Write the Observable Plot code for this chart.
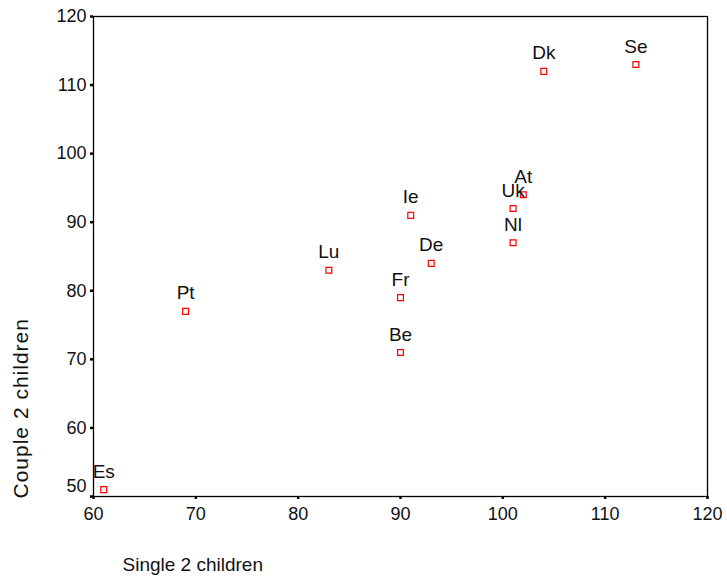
<!DOCTYPE html>
<html>
<head>
<meta charset="utf-8">
<script src="https://cdn.jsdelivr.net/npm/d3@7"></script>
<script src="https://cdn.jsdelivr.net/npm/@observablehq/plot@0.6"></script>
<style>
  html, body { margin: 0; padding: 0; background: white; }
</style>
</head>
<body>
<div id="chart"></div>
<script>
const countries = ["Be", "Dk", "De", "Es", "Fr", "Ie", "Lu", "Nl", "At", "Pt", "Se", "Uk"];
const single2   = [90, 104, 93, 61, 90, 91, 83, 101, 102, 69, 113, 101];
const couple2   = [71, 112, 84, 51, 79, 91, 83, 87, 94, 77, 113, 92];
const xTicks = [60, 70, 80, 90, 100, 110, 120];
const yTicks = [50, 60, 70, 80, 90, 100, 110, 120];
const yLowTick = [50];
const xTitle = ["Single 2 children"];
const yTitle = ["Couple 2 children"];

const data = countries.map((c, i) => ({country: c, single: single2[i], couple: couple2[i]}));

const chart = Plot.plot({
  width: 727,
  height: 585,
  marginLeft: 93,
  marginRight: 20,
  marginTop: 16,
  marginBottom: 89,
  style: {fontFamily: "'Liberation Sans', Arial, sans-serif", background: "white", color: "black"},
  x: {domain: [60, 120]},
  y: {domain: [50, 120]},
  marks: [
    Plot.frame({stroke: "black", strokeWidth: 1.3}),
    Plot.axisX({ticks: xTicks, tickSize: 3, tickPadding: 8, strokeWidth: 2.5, fontSize: 18, label: null, fill: "#111"}),
    Plot.axisY({ticks: yTicks, tickSize: 3, tickPadding: 4, strokeWidth: 2.5, fontSize: 18, label: null, fill: "#111",
      tickFormat: d => d === 50 ? "" : String(d)}),
    Plot.text(yLowTick, {y: d => d, text: d => String(d), frameAnchor: "left", textAnchor: "end", dx: -7, dy: -10, fontSize: 18, fill: "#111"}),
    Plot.dot(data, {x: "single", y: "couple", symbol: "square", r: 3.3, stroke: "red", strokeWidth: 1.2, fill: "white"}),
    Plot.text(data, {x: "single", y: "couple", text: "country", dy: -18, fontSize: 19, fill: "#111"}),
    Plot.text(xTitle, {frameAnchor: "bottom-left", text: d => d, textAnchor: "start", dx: 29, dy: 74, fontSize: 19, fill: "#111"}),
    Plot.text(yTitle, {frameAnchor: "bottom-left", text: d => d, textAnchor: "start", rotate: -90, dx: -66, dy: 2, fontSize: 21, fill: "#111"})
  ]
});

d3.select(chart).selectAll("text")
  .filter(function() { return this.textContent === "Couple 2 children"; })
  .style("letter-spacing", "1px");

document.getElementById("chart").appendChild(chart);
</script>
</body>
</html>
